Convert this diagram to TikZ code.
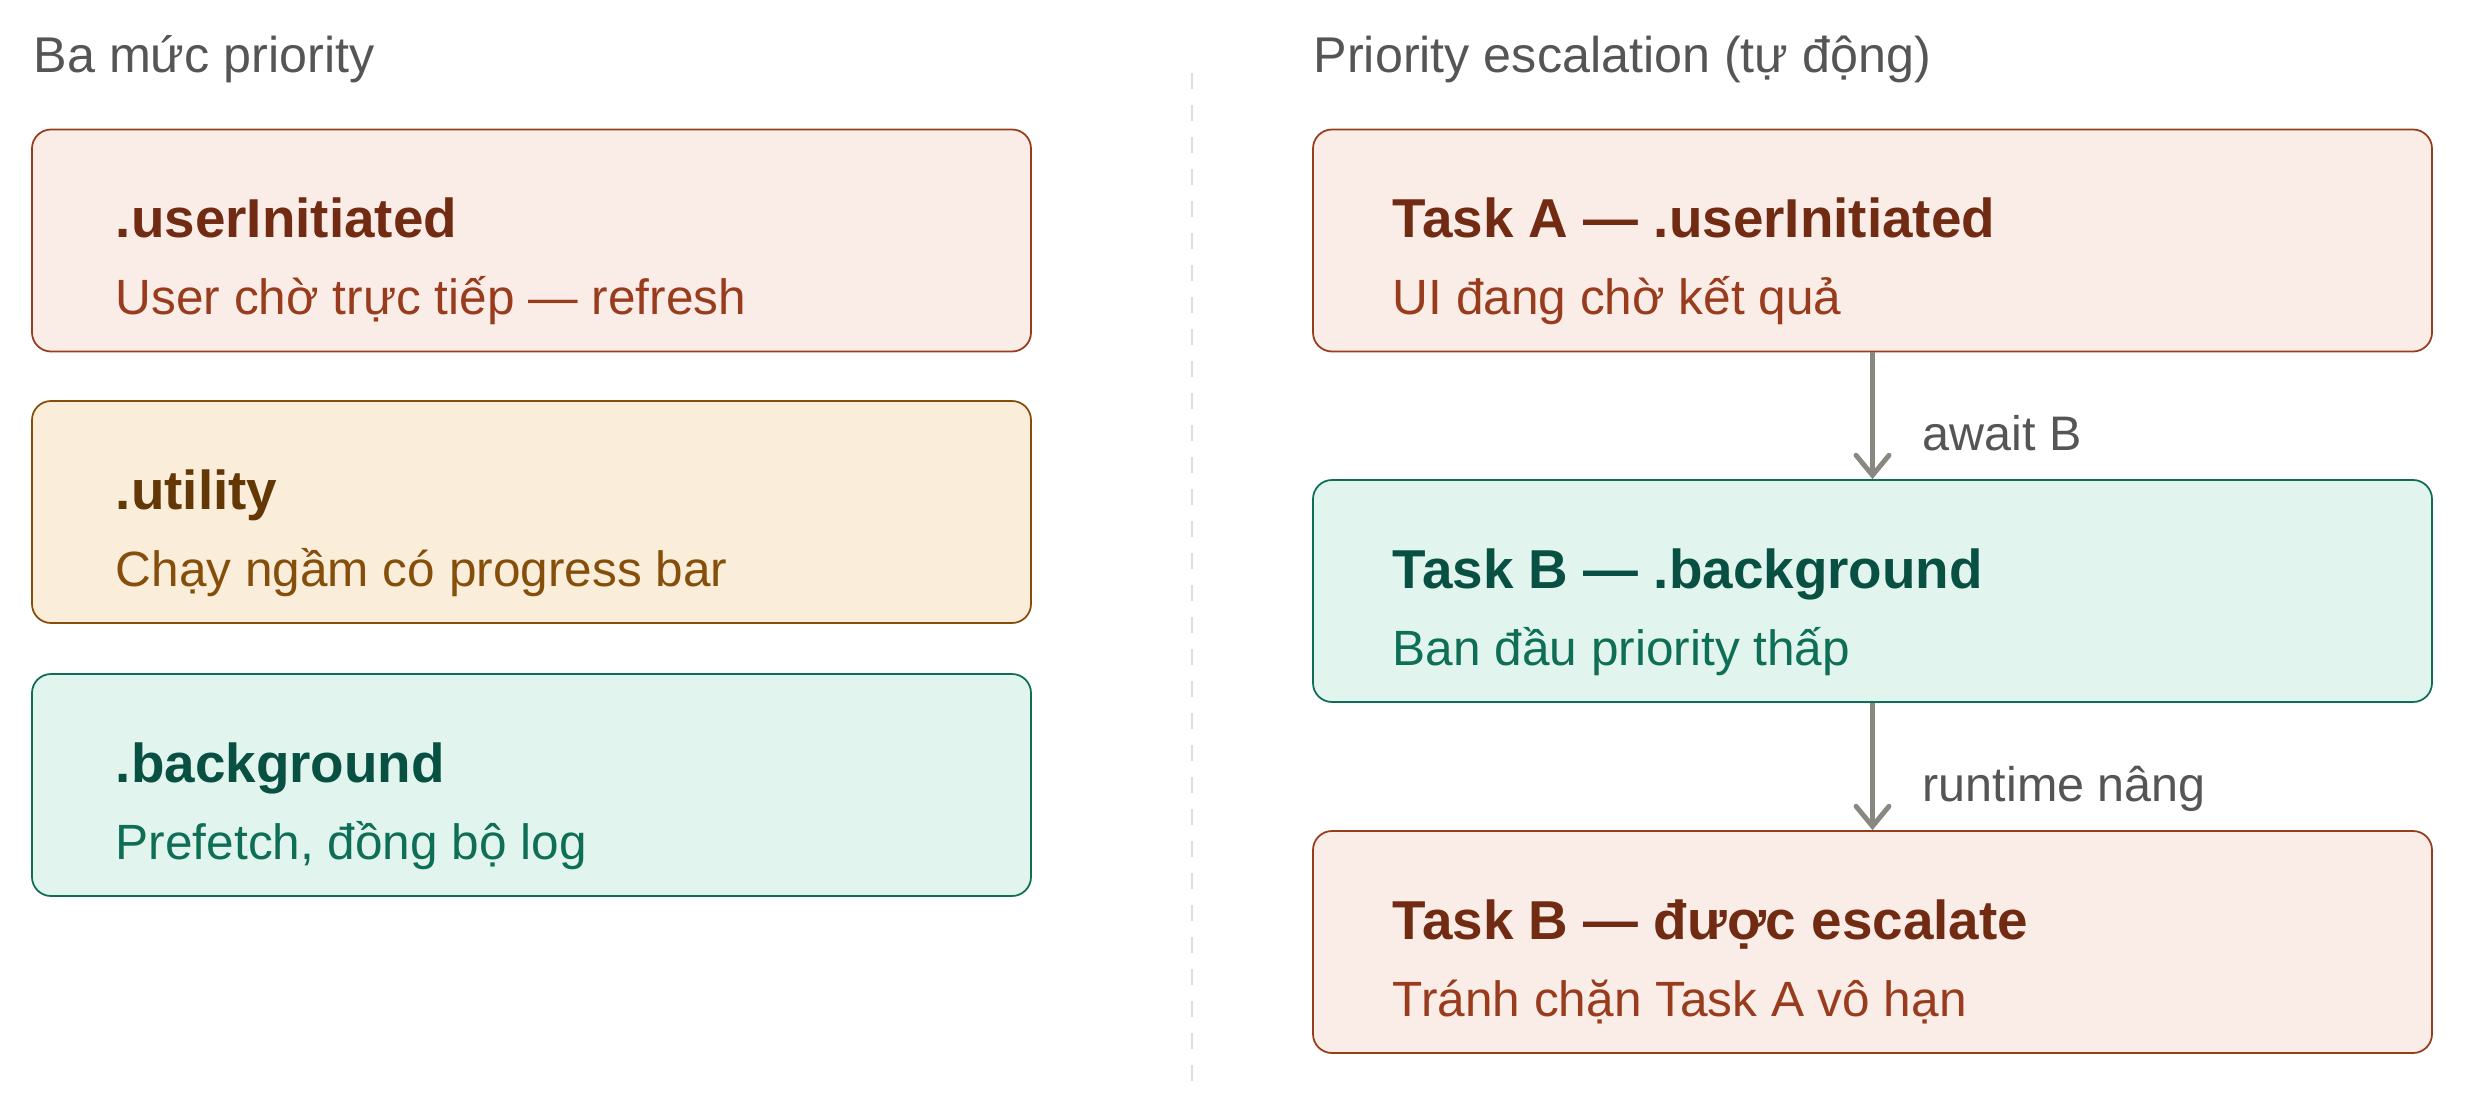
\documentclass[tikz,border=0pt]{standalone}
\usepackage{fontspec}
\setmainfont{Liberation Sans}
\usetikzlibrary{arrows.meta}
\definecolor{rdfill}{HTML}{FAECE7}
\definecolor{rdline}{HTML}{993C1D}
\definecolor{rdtitle}{HTML}{712B13}
\definecolor{rdsub}{HTML}{993C1D}
\definecolor{amfill}{HTML}{FAEEDA}
\definecolor{amline}{HTML}{854F0B}
\definecolor{amtitle}{HTML}{633806}
\definecolor{amsub}{HTML}{854F0B}
\definecolor{gnfill}{HTML}{E1F5EE}
\definecolor{gnline}{HTML}{0F6E56}
\definecolor{gntitle}{HTML}{085041}
\definecolor{gnsub}{HTML}{0F6E56}
\definecolor{hdrgray}{HTML}{555555}
\definecolor{arrgray}{HTML}{888780}
\definecolor{divgray}{HTML}{DDDDDD}
\tikzset{
  box/.style = {draw, rounded corners = 1.9mm, line width = 0.5pt, minimum height = 22.2mm, inner sep = 0pt},
  ttl/.style = {anchor = base west, inner sep = 0pt, font = \fontsize{15.6}{18}\selectfont\bfseries},
  sub/.style = {anchor = base west, inner sep = 0pt, font = \fontsize{14.1}{16}\selectfont},
  hdr/.style = {anchor = base west, inner sep = 0pt, text = hdrgray, font = \fontsize{14.3}{17}\selectfont},
  lbl/.style = {anchor = base west, inner sep = 0pt, text = hdrgray, font = \fontsize{13.8}{16}\selectfont},
  arr/.style = {draw = arrgray, line width = 1.4pt, -{Straight Barb[length = 2mm, width = 3.3mm, line cap = round]}}
}
\begin{document}
\begin{tikzpicture}[x = 0.1mm, y = -0.1mm]
\useasboundingbox (0, 0) rectangle (2468, 1093);
\node[hdr] (hl) at (33, 72) {Ba mức priority};
\node[hdr] (hr) at (1313, 72) {Priority escalation (tự động)};
\draw[divgray, line width = 0.5pt, dash pattern = on 1.6mm off 1.6mm] (1192, 73) -- (1192, 1085);
% left column
\foreach \n/\y/\c/\t/\s in {ui/240.5/rd/.userInitiated/User chờ trực tiếp — refresh, ut/512/am/.utility/Chạy ngầm có progress bar, bg/785/gn/.background/{Prefetch, đồng bộ log}}{
  \node[box, draw = \c line, fill = \c fill, minimum width = 99.9mm] (\n) at (531.5, \y) {};
  \node[ttl, text = \c title] (\n-t) at ([xshift = 8.4mm, yshift = -10.9mm]\n.north west) {\t};
  \node[sub, text = \c sub] (\n-s) at ([xshift = 8.4mm, yshift = -18.6mm]\n.north west) {\s};
}
% right column
\foreach \n/\y/\c/\t/\s in {ta/240.5/rd/Task A — .userInitiated/UI đang chờ kết quả, tb/591/gn/Task B — .background/Ban đầu priority thấp, tc/942/rd/Task B — được escalate/Tránh chặn Task A vô hạn}{
  \node[box, draw = \c line, fill = \c fill, minimum width = 111.9mm] (\n) at (1872.5, \y) {};
  \node[ttl, text = \c title] (\n-t) at ([xshift = 8mm, yshift = -10.9mm]\n.north west) {\t};
  \node[sub, text = \c sub] (\n-s) at ([xshift = 8mm, yshift = -18.6mm]\n.north west) {\s};
}
\draw[arr] (ta) -- (tb);
\draw[arr] (tb) -- (tc);
\node[lbl] (aw) at (1922, 450) {await B};
\node[lbl] (rt) at (1922, 801) {runtime nâng};
\end{tikzpicture}
\end{document}
